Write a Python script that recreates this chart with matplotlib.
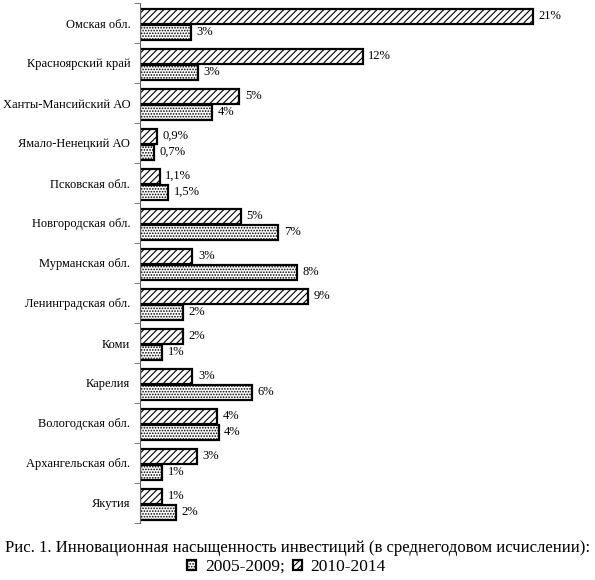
import numpy as np
import matplotlib
matplotlib.use("Agg")
import matplotlib.pyplot as plt

plt.rcParams['font.family'] = ['Liberation Serif', 'DejaVu Serif']
plt.rcParams['hatch.linewidth'] = 0.8

# Data-
regions = ["Омская обл.", "Красноярский край", "Ханты-Мансийский АО", "Ямало-Ненецкий АО",
           "Псковская обл.", "Новгородская обл.", "Мурманская обл.", "Ленинградская обл.",
           "Коми", "Карелия", "Вологодская обл.", "Архангельская обл.", "Якутия"]
vals_2010 = [21.0, 11.9, 5.3, 0.9, 1.05, 5.4, 2.8, 9.0, 2.3, 2.8, 4.1, 3.05, 1.2]
vals_2005 = [2.7, 3.1, 3.85, 0.75, 1.5, 7.4, 8.4, 2.3, 1.2, 6.0, 4.2, 1.2, 1.9]
labels_2010 = ["21%", "12%", "5%", "0,9%", "1,1%", "5%", "3%", "9%", "2%", "3%", "4%", "3%", "1%"]
labels_2005 = ["3%", "3%", "4%", "0,7%", "1,5%", "7%", "8%", "2%", "1%", "6%", "4%", "1%", "2%"]

fig = plt.figure(figsize=(5.95, 5.8), dpi=100)
ax = fig.add_axes([140/595, 1-523/580, 449/595, 520/580])

y = np.arange(len(regions))
h = 0.38
off = 0.2
b1 = ax.barh(y - off + 0.03, vals_2010, height=h, color="white", edgecolor="black",
             linewidth=1.6, hatch="/////", label="2010-2014")
b2 = ax.barh(y + off + 0.03, vals_2005, height=h, color="white", edgecolor="black",
             linewidth=1.6, hatch="......", label="2005-2009;")

# value labels-
for i in range(len(regions)):
    ax.text(vals_2010[i] + 0.3, y[i] - off + 0.03, labels_2010[i], va="center", ha="left", fontsize=9)
    ax.text(vals_2005[i] + 0.3, y[i] + off + 0.03, labels_2005[i], va="center", ha="left", fontsize=9)

ax.set_xlim(0, 24)
ax.set_ylim(12.5, -0.5)
ax.set_yticks(y)
ax.set_yticklabels(regions, fontsize=9)
ax.set_yticks(np.arange(-0.5, 13, 1), minor=True)
ax.tick_params(axis="y", which="major", length=0, pad=7)
ax.tick_params(axis="y", which="minor", length=4, color="#666666")
ax.set_xticks([])
for s in ["top", "right", "bottom"]:
    ax.spines[s].set_visible(False)
ax.spines["left"].set_color("#666666")

# caption + legend-
fig.text(0.5, 1-548/580, "Рис. 1. Инновационная насыщенность инвестиций (в среднегодовом исчислении):",
         ha="center", va="center", fontsize=12)
fig.legend(handles=[b2, b1], loc="center", bbox_to_anchor=(0.482, 1-567/580), ncol=2,
           frameon=False, fontsize=12.5, handlelength=0.5, handleheight=0.5,
           handletextpad=0.5, columnspacing=0.5, borderpad=0)

fig.savefig("out.png", dpi=100)
